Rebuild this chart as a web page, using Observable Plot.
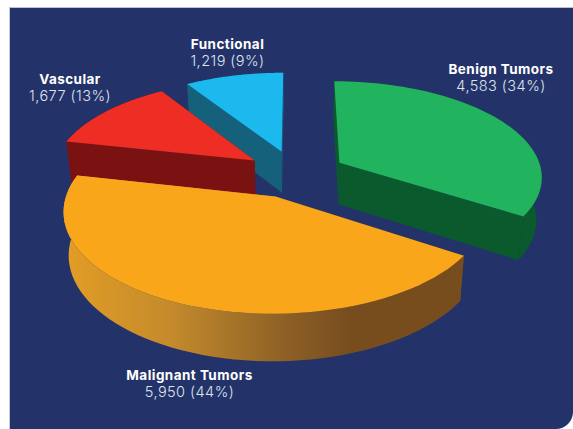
<!DOCTYPE html>
<html>
<head>
<meta charset="utf-8">
<script src="https://cdn.jsdelivr.net/npm/d3@7"></script>
<script src="https://cdn.jsdelivr.net/npm/@observablehq/plot@0.6"></script>
<style>
  html, body { margin: 0; padding: 0; background: #fff; }
  #panel { position: relative; width: 573px; height: 429px; overflow: hidden; }
  #panel::before { content: ""; position: absolute; left: 9px; top: 7px; right: 0; bottom: 0;
    background: #233369; border-top: 1px solid #b9c0d6; border-left: 1px solid #c4cadd; box-sizing: border-box;
    border-bottom-right-radius: 17px; }
  #panel svg { position: absolute; left: 0; top: 0; background: transparent; }
  #panel svg text { letter-spacing: 0.45px; }
</style>
</head>
<body>
<div id="panel"></div>
<script>
// Data
const categories = ["Benign Tumors", "Malignant Tumors", "Vascular", "Functional"];
const counts = [4583, 5950, 1677, 1219];
const percents = [34, 44, 13, 9];

// Styles
const topColors = ["#22b35e", "#faa61a", "#ee2e24", "#1cb9ef"];
const wallColors = ["#0a5a2d", "url(#orangeWall)", "#7a1212", "#15617c"];
const paintOrder = [3, 2, 0, 1];

// 3D view of the unit pie plane
const view = {cx: 295, cy: 173.4, a: 203, b: 95, k: 0.133, explode: 0.25, shrink: 0.978};
const project = (u, v) => {
  const w = 1 - view.k * v;
  return [view.cx + view.a * u / w, view.cy + view.b * v / w];
};
const lower = ([x, y]) => [view.cx + (x - view.cx) * view.shrink, y + 41 + (y - 150) * 0.04];

const slices = d3.pie().sort(null)(counts);
const arcSteps = (s) => d3.range(0, 61).map((i) => s.startAngle + (s.endAngle - s.startAngle) * i / 60);

function faces(s) {
  const mid = (s.startAngle + s.endAngle) / 2;
  const u0 = view.explode * Math.sin(mid), v0 = -view.explode * Math.cos(mid);
  const apex = project(u0, v0);
  const rim = arcSteps(s).map((t) => project(u0 + Math.sin(t), v0 - Math.cos(t)));
  const first = rim[0], last = rim[rim.length - 1];
  return {
    top: [apex, ...rim],
    walls: [
      [apex, first, lower(first), lower(apex)],
      [apex, last, lower(last), lower(apex)],
      [...rim, ...rim.map(lower).reverse()]
    ]
  };
}

const poly = (pts, fill) => Plot.line(pts, {x: (d) => d[0], y: (d) => d[1], fill, stroke: "none", curve: "linear"});

const pieMarks = paintOrder.flatMap((i) => {
  const f = faces(slices[i]);
  return [...f.walls.map((w) => poly(w, wallColors[i])), poly(f.top, topColors[i])];
});

// Label anchors
const labelX = [500.5, 189, 69.5, 227];
const labelY = [69.5, 375.5, 79.5, 44.5];
const labels = categories.map((name, i) => ({
  name,
  value: `${d3.format(",")(counts[i])} (${percents[i]}%)`,
  x: labelX[i],
  y: labelY[i]
}));

const gradient = () => {
  const ns = "http://www.w3.org/2000/svg";
  const defs = document.createElementNS(ns, "defs");
  defs.innerHTML = `<linearGradient id="orangeWall" gradientUnits="userSpaceOnUse" x1="65" x2="350" y1="0" y2="0">
    <stop offset="0" stop-color="#e29d25"/>
    <stop offset="0.37" stop-color="#c48a2c"/>
    <stop offset="0.78" stop-color="#8c5f25"/>
    <stop offset="1" stop-color="#774d1e"/>
  </linearGradient>`;
  return defs;
};

const chart = Plot.plot({
  width: 573,
  height: 429,
  margin: 0,
  style: {background: "transparent", fontFamily: "Inter, sans-serif"},
  x: {domain: [0, 573], range: [0, 573], axis: null},
  y: {domain: [0, 429], range: [0, 429], axis: null},
  marks: [
    gradient,
    ...pieMarks,
    Plot.text(labels, {x: "x", y: "y", text: "name", fill: "#ffffff", fontWeight: 700, fontSize: 13.5, lineAnchor: "middle"}),
    Plot.text(labels, {x: "x", y: (d) => d.y + 16.5, text: "value", fill: "#dfe3ee", fontWeight: 300, fontSize: 14.5, lineAnchor: "middle"})
  ]
});
document.getElementById("panel").appendChild(chart);
</script>
</body>
</html>
